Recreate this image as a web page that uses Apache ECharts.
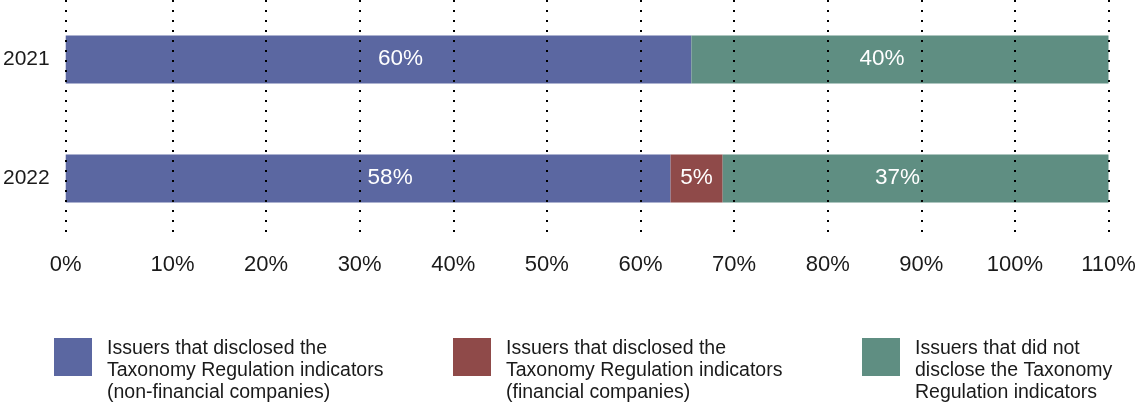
<!DOCTYPE html>
<html>
<head>
<meta charset="utf-8">
<script src="https://cdn.jsdelivr.net/npm/echarts@6/dist/echarts.min.js"></script>
<style>
  html, body { margin: 0; padding: 0; background: #fff; }
  #chart { width: 1140px; height: 410px; }
</style>
</head>
<body>
<div id="chart"></div>
<script>
const years = ['2021', '2022']

// share of issuers, %
const nonFinancial = [60, 58]
const financial = [null, 5]
const notDisclosed = [40, 37]

const seriesNames = ['nonFinancial', 'financial', 'notDisclosed']
const legendLabels = [
  'Issuers that disclosed the\nTaxonomy Regulation indicators\n(non-financial companies)',
  'Issuers that disclosed the\nTaxonomy Regulation indicators\n(financial companies)',
  'Issuers that did not\ndisclose the Taxonomy\nRegulation indicators'
]

// scale axis: the 0% line sits on the bar origin, the rest are every 10%
const tickValues = [-1.4, 10, 20, 30, 40, 50, 60, 70, 80, 90, 100, 110]
const tickLabels = ['0%', '10%', '20%', '30%', '40%', '50%', '60%', '70%', '80%', '90%', '100%', '110%']

const colors = ['#5b67a1', '#8f4a49', '#5f8e82']
const font = "'Liberation Sans', Arial, Helvetica, sans-serif"

const legendLefts = [54, 453, 862]
// square on top of a taller (empty) box so it lines up with the first text line
const legendIcon = 'path://M0,0H38V38H0Z M0,66L38,66Z'

const makeSeries = (i, values, labelOffset) => ({
  name: seriesNames[i],
  type: 'bar',
  stack: 'total',
  xAxisIndex: 0,
  yAxisIndex: 0,
  barWidth: 48,
  data: values,
  itemStyle: { color: colors[i] },
  label: {
    show: true,
    position: 'inside',
    offset: labelOffset,
    color: '#fff',
    fontFamily: font,
    fontSize: 22.5,
    formatter: (p) => p.value + '%'
  },
  emphasis: { disabled: true }
})

const option = {
  backgroundColor: '#fff',
  animation: false,
  grid: { left: 65, right: 31.5, top: 0, bottom: 172 },
  xAxis: [
    {
      type: 'value',
      min: 0,
      max: 100,
      show: false
    },
    {
      type: 'value',
      min: -1.4,
      max: 110,
      position: 'bottom',
      z: 5,
      axisLine: { show: false },
      axisTick: { show: false, customValues: tickValues },
      axisLabel: {
        customValues: tickValues,
        formatter: (v) => tickLabels[tickValues.indexOf(v)],
        color: '#1a1a1a',
        fontFamily: font,
        fontSize: 22,
        margin: 16
      },
      splitLine: {
        show: true,
        lineStyle: { color: '#000', width: 2, type: [2, 8], cap: 'butt' }
      }
    }
  ],
  yAxis: {
    type: 'category',
    data: years,
    inverse: true,
    axisLine: { show: false },
    axisTick: { show: false },
    axisLabel: {
      color: '#1a1a1a',
      fontFamily: font,
      fontSize: 21,
      margin: 16
    }
  },
  legend: seriesNames.map((name, i) => ({
    data: [name],
    left: legendLefts[i],
    top: 338,
    padding: 0,
    icon: legendIcon,
    itemWidth: 38,
    itemHeight: 66,
    selectedMode: false,
    formatter: () => legendLabels[i],
    textStyle: {
      color: '#1a1a1a',
      fontFamily: font,
      fontSize: 19.5,
      lineHeight: 22,
      padding: [0, 0, 0, 10]
    }
  })),
  series: [
    makeSeries(0, nonFinancial, [22, -1]),
    makeSeries(1, financial, [0, -1]),
    makeSeries(2, notDisclosed, [-18, -1])
  ]
}

const chart = echarts.init(document.getElementById('chart'))
chart.setOption(option)
</script>
</body>
</html>
